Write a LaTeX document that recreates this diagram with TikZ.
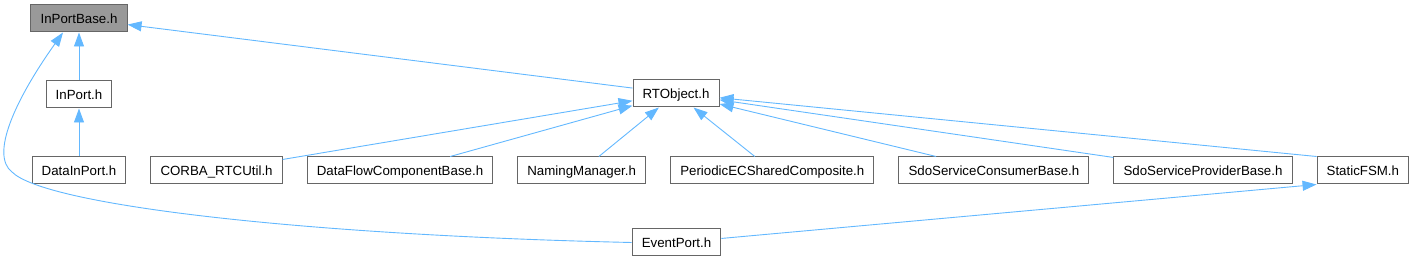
\documentclass[tikz,border=0pt]{standalone}
\usepackage{fontspec}
\setmainfont{Liberation Sans}
\usetikzlibrary{arrows.meta,positioning}
\definecolor{edgeblue}{HTML}{63B8FF}
\definecolor{boxgray}{HTML}{666666}
\definecolor{rootgray}{HTML}{999999}

\begin{document}
\begin{tikzpicture}[x=1pt, y=-1pt, node distance=48pt and 24pt, every node/.style={font=\fontsize{13.3}{16}\selectfont}, box/.style={draw=boxgray,line width=1pt,minimum height=27pt,inner xsep=9.6pt,inner ysep=0pt,text height=9.5pt,text depth=0pt}, dep/.style={draw=edgeblue,line width=0.9pt}, >={Triangle[length=14pt,width=10pt]}]
\useasboundingbox (0,0) rectangle (1412,261);
\node[box, fill=rootgray] (inportbase) at (79,18.5) {InPortBase.h};
\node[box, below=of inportbase] (inport) {InPort.h};
\node[box, below=of inport] (datainport) {DataInPort.h};
\node[box, right=of datainport] (corbartcutil) {CORBA\_RTCUtil.h};
\node[box, right=of corbartcutil] (dataflow) {DataFlowComponentBase.h};
\node[box, right=of dataflow] (namingmgr) {NamingManager.h};
\node[box, right=of namingmgr] (periodicec) {PeriodicECSharedComposite.h};
\node[box, right=of periodicec] (sdoconsumer) {SdoServiceConsumerBase.h};
\node[box, right=of sdoconsumer] (sdoprovider) {SdoServiceProviderBase.h};
\node[box, right=of sdoprovider] (staticfsm) {StaticFSM.h};
\node[box] (rtobject) at (676,93.5) {RTObject.h};
\node[box] (eventport) at (676.5,242.5) {EventPort.h};
\draw[dep,<-] (inportbase) -- (inport);
\draw[dep,<-] (inport) -- (datainport);
\draw[dep,<-] (inportbase) -- (rtobject);
\draw[dep,<-] (rtobject) -- (corbartcutil);
\draw[dep,<-] (rtobject) -- (dataflow);
\draw[dep,<-] (rtobject) -- (namingmgr);
\draw[dep,<-] (rtobject) -- (periodicec);
\draw[dep,<-] (rtobject) -- (sdoconsumer);
\draw[dep,<-] (rtobject) -- (sdoprovider);
\draw[dep,<-] (rtobject) -- (staticfsm.north west);
\draw[dep,<-] (staticfsm.south west) -- (eventport);
\draw[dep,<-] ([xshift=-16pt]inportbase.south) .. controls (15,100) and (-10,155) .. (12,172) .. controls (45,205) and (300,235) .. (eventport.west);
\end{tikzpicture}
\end{document}
